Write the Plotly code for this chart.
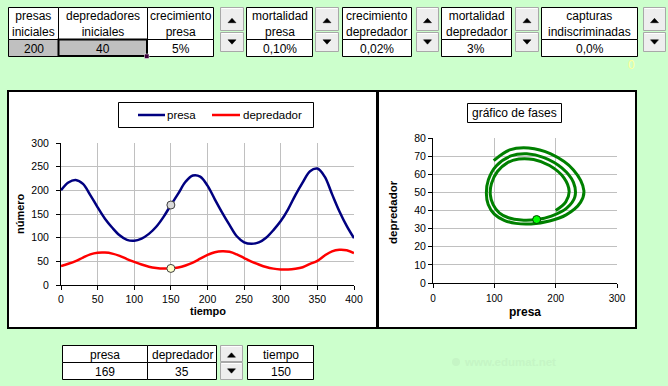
import plotly.graph_objects as go

W, H = 668, 386
FONT = "Liberation Sans, Arial, sans-serif"

# ---------------- data ----------------
tiempo = list(range(0, 401, 10))
presa = [200, 216.5, 222, 213.5, 190, 164, 140, 121, 105, 95.3,
         93.4, 98, 108, 123, 144, 169, 193, 218, 231.3, 229,
         210, 181, 153, 127, 103, 90.3, 87, 90, 100, 116,
         135, 160, 190, 217, 240.5, 246, 229, 192, 156, 125,
         99]
depredador = [40, 44.8, 50.5, 58, 64.8, 68.1, 68.4, 66.3, 61.5, 54.8,
              48.8, 43.2, 38.7, 36, 34.7, 35, 36.9, 41.3, 47.5, 55.5,
              63.5, 69.2, 71.3, 70.1, 64.6, 57, 49.5, 43.3, 38, 34.6,
              32.9, 32.6, 34.2, 37.6, 44.5, 51, 62.4, 71.2, 74.5, 73.4,
              67.5]

tiempo_actual = 150
presa_actual = 169
depredador_actual = 35

param_headers = ["presas<br>iniciales", "depredadores<br>iniciales", "crecimiento<br>presa",
                 "mortalidad<br>presa", "crecimiento<br>depredador", "mortalidad<br>depredador",
                 "capturas<br>indiscriminadas"]
param_values = ["200", "40", "5%", "0,10%", "0,02%", "3%", "0,0%"]
estado_headers = ["presa", "depredador", "tiempo"]
estado_values = [str(presa_actual), str(depredador_actual), str(tiempo_actual)]

series_names = ["presa", "depredador"]
t_ticks = [0, 50, 100, 150, 200, 250, 300, 350, 400]
n_ticks = [0, 50, 100, 150, 200, 250, 300]
fx_ticks = [0, 100, 200, 300]
fy_ticks = [0, 10, 20, 30, 40, 50, 60, 70, 80]

# ---------------- helpers ----------------
def px(x):
    return x / W

def py(y):
    return 1 - y / H

shapes = []
annotations = []

def rect(x0, y0, x1, y1, fill="rgba(0,0,0,0)", line="black", lw=1, layer="above"):
    shapes.append(dict(type="rect", xref="paper", yref="paper",
                       x0=px(x0), x1=px(x1), y0=py(y0), y1=py(y1),
                       fillcolor=fill, line=dict(color=line, width=lw), layer=layer))

def hline(x0, x1, y, color, lw):
    shapes.append(dict(type="line", xref="paper", yref="paper",
                       x0=px(x0), x1=px(x1), y0=py(y), y1=py(y),
                       line=dict(color=color, width=lw)))

def text(x, y, s, size=12, color="black", bold=False, xanchor="center", angle=0):
    if bold:
        s = "<b>" + s + "</b>"
    annotations.append(dict(x=px(x), y=py(y), xref="paper", yref="paper", text=s,
                            showarrow=False, xanchor=xanchor, yanchor="middle",
                            textangle=angle, borderpad=0,
                            font=dict(family=FONT, size=size, color=color)))

def tri(cx, cy, up=True):
    w, h = 4, 2.2
    if up:
        pts = [(cx - w, cy + h), (cx + w, cy + h), (cx, cy - h)]
    else:
        pts = [(cx - w, cy - h), (cx + w, cy - h), (cx, cy + h)]
    path = "M " + " L ".join(f"{px(a)},{py(b)}" for a, b in pts) + " Z"
    shapes.append(dict(type="path", xref="paper", yref="paper", path=path,
                       fillcolor="black", line=dict(color="black", width=0.5)))

def spin(x0, x1, uy0, uy1, dy0, dy1):
    for (a, b) in [(uy0, uy1), (dy0, dy1)]:
        rect(x0 + 0.5, a + 0.5, x1 + 0.5, b + 0.5, fill="#EEEEEE", line="#A8A8A8", lw=1)
        hline(x0 + 1.5, x1 - 0.5, a + 1.5, "white", 1)
    tri((x0 + x1) / 2 + 0.5, (uy0 + uy1) / 2 + 2, up=True)
    tri((x0 + x1) / 2 + 0.5, (dy0 + dy1) / 2 + 0.5, up=False)

# ---------------- top parameter tables ----------------
cells = [(8, 58), (58, 147), (147, 213), (246, 312), (342, 411), (441, 511), (541, 637)]
for i, (a, b) in enumerate(cells):
    fill = "#C0C0C0" if i < 2 else "white"
    rect(a + 0.5, 7.5, b + 0.5, 39.5, fill="white")
    rect(a + 0.5, 39.5, b + 0.5, 56.5, fill=fill)
    text((a + b) / 2 + 0.5, 24, param_headers[i], size=12)
    text((a + b) / 2 + 0.5, 48.5, param_values[i], size=12)
# selection on "depredadores iniciales" value
rect(58.5, 39.5, 147, 56, line="black", lw=2)
rect(144.5, 54, 149, 58.5, fill="#3A003A", line="white", lw=0.5)

for (a, b) in [(220, 243), (315, 338), (416, 438), (515, 538), (643, 665)]:
    spin(a, b, 7, 30, 32, 51)

text(631, 65, "0", size=12, color="#FFFF99")

# ---------------- chart boxes ----------------
rect(8, 91, 377, 328, fill="white", line="black", lw=2, layer="below")
rect(378, 91, 636, 328, fill="white", line="black", lw=2, layer="below")

# legend of time chart
rect(118.5, 102.5, 313.5, 127.5, fill="white")
hline(138, 165, 115, "#000080", 2.5)
text(166, 115, series_names[0], size=11.5, xanchor="left")
hline(212, 240, 115, "#FF0000", 2.5)
text(242, 115, series_names[1], size=11.5, xanchor="left")

# phase title
rect(467.5, 103.5, 561.5, 122.5, fill="white")
text(514.5, 113, "gráfico de fases", size=12)

# axis titles
text(207.5, 311, "tiempo", size=11, bold=True)
text(20, 214, "número", size=11, bold=True, angle=-90)
text(525, 311.5, "presa", size=12, bold=True)
text(393, 212, "depredador", size=11.5, bold=True, angle=-90)

# ---------------- bottom state table ----------------
bcells = [(62, 147), (147, 216), (247, 313)]
for i, (a, b) in enumerate(bcells):
    rect(a + 0.5, 345.5, b + 0.5, 362.5, fill="white")
    rect(a + 0.5, 362.5, b + 0.5, 379.5, fill="white")
    text((a + b) / 2 + 0.5, 354.5, estado_headers[i], size=12)
    text((a + b) / 2 + 0.5, 371.5, estado_values[i], size=12)
spin(220, 242, 345, 361, 362, 379)

# watermark
shapes.append(dict(type="circle", xref="paper", yref="paper",
                   x0=px(452), x1=px(460), y0=py(366), y1=py(358),
                   fillcolor="#C5F5C5", line=dict(width=0)))
text(463, 362, "www.edumat.net", size=11.5, color="#C5F5C5", xanchor="left", bold=True)

# ---------------- traces ----------------
fig = go.Figure()
fig.add_trace(go.Scatter(x=tiempo, y=presa, mode="lines", name=series_names[0],
                         line=dict(color="#000080", width=2.5, shape="spline", smoothing=1),
                         xaxis="x", yaxis="y", hoverinfo="skip"))
fig.add_trace(go.Scatter(x=tiempo, y=depredador, mode="lines", name=series_names[1],
                         line=dict(color="#FF0000", width=2.5, shape="spline", smoothing=1),
                         xaxis="x", yaxis="y", hoverinfo="skip"))
fig.add_trace(go.Scatter(x=[tiempo_actual], y=[presa_actual], mode="markers",
                         marker=dict(size=8, color="#D9D9D9", line=dict(color="#404040", width=1)),
                         xaxis="x", yaxis="y", hoverinfo="skip"))
fig.add_trace(go.Scatter(x=[tiempo_actual], y=[depredador_actual], mode="markers",
                         marker=dict(size=8, color="#FFFFCC", line=dict(color="#404040", width=1)),
                         xaxis="x", yaxis="y", hoverinfo="skip"))
fig.add_trace(go.Scatter(x=presa, y=depredador, mode="lines",
                         line=dict(color="#008000", width=3, shape="spline", smoothing=1),
                         xaxis="x2", yaxis="y2", hoverinfo="skip"))
fig.add_trace(go.Scatter(x=[presa_actual], y=[depredador_actual], mode="markers",
                         marker=dict(size=8, color="#00FF00", line=dict(color="#004000", width=1)),
                         xaxis="x2", yaxis="y2", hoverinfo="skip"))

axis_common = dict(showgrid=True, gridcolor="#C0C0C0", gridwidth=1, showline=True,
                   linecolor="black", linewidth=1, ticks="outside", ticklen=4,
                   tickcolor="black", zeroline=False, fixedrange=True, automargin=False,
                   tickfont=dict(family=FONT, size=10.5, color="black"))

fig.update_layout(
    template="none",
    width=W, height=H,
    margin=dict(l=0, r=0, t=0, b=0, pad=0, autoexpand=False),
    paper_bgcolor="#CCFFCC", plot_bgcolor="white", showlegend=False,
    shapes=shapes, annotations=annotations,
    xaxis=dict(axis_common, domain=[px(61), px(354)], range=[0, 400],
               tickvals=t_ticks, anchor="y"),
    yaxis=dict(axis_common, domain=[py(285), py(143)], range=[0, 300],
               tickvals=n_ticks, anchor="x", ticklabelstandoff=5),
    xaxis2=dict(axis_common, domain=[px(433), px(617)], range=[0, 300],
                tickvals=fx_ticks, anchor="y2", ticklabelstandoff=2),
    yaxis2=dict(axis_common, domain=[py(283), py(138)], range=[0, 80],
                tickvals=fy_ticks, anchor="x2"),
)
fig.layout.xaxis2.tickfont.size = 10

fig.write_html(
    "out.html",
    config={"displayModeBar": False},
    post_script="document.body.style.margin='0px';document.body.style.padding='0px';"
                "document.body.style.overflow='hidden';"
                "document.body.style.background='#CCFFCC';",
)
